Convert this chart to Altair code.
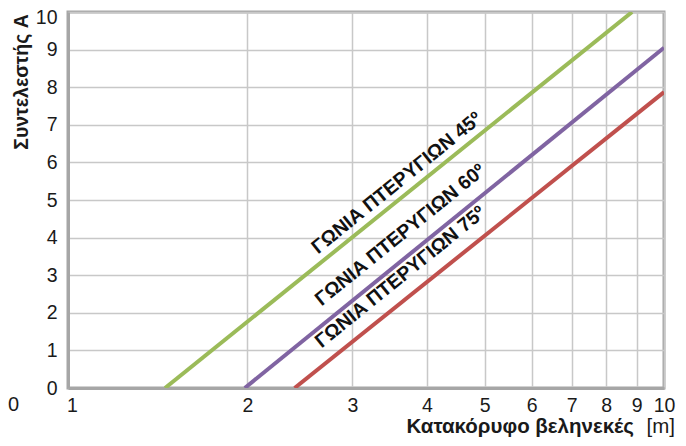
import altair as alt
import pandas as pd

# Line end points (x log scale, y linear)
series = ["45", "60", "75"]
x_start = [1.455, 1.98, 2.40]
y_start = [0.0, 0.0, 0.0]
x_end = [8.84, 10.0, 10.0]
y_end = [10.0, 9.05, 7.87]
colors = ["#9bbb59", "#8064a2", "#c0504d"]

label_texts = ["ΓΩΝΙΑ ΠΤΕΡΥΓΙΩΝ 45º", "ΓΩΝΙΑ ΠΤΕΡΥΓΙΩΝ 60º", "ΓΩΝΙΑ ΠΤΕΡΥΓΙΩΝ 75º"]
label_x = [3.56, 3.61, 3.61]
label_y = [5.45, 4.07, 2.95]

x_ticks = [1, 2, 3, 4, 5, 6, 7, 8, 9, 10]
y_ticks = [0, 1, 2, 3, 4, 5, 6, 7, 8, 9, 10]

rows = []
for s, xs, ys, xe, ye in zip(series, x_start, y_start, x_end, y_end):
    rows.append({"series": s, "x": xs, "y": ys, "o": 0})
    rows.append({"series": s, "x": xe, "y": ye, "o": 1})
lines_df = pd.DataFrame(rows)
labels_df = pd.DataFrame({"label": label_texts, "x": label_x, "y": label_y})

FONT = "Liberation Sans"

xscale = alt.Scale(type="log", domain=[1, 10], nice=False)
yscale = alt.Scale(domain=[0, 10], nice=False, zero=False)
xaxis = alt.Axis(values=x_ticks, format="d", title=None, labelOverlap=False, labelFlush=False,
                 labelOffset={"condition": {"test": "datum.value == 1", "value": 4}, "value": 0})
yaxis = alt.Axis(values=y_ticks, format="d", title=None, labelOverlap=False, labelFlush=False,
                 labelOffset={"condition": {"test": "datum.value == 10", "value": 5}, "value": 0})

lines = alt.Chart(lines_df).mark_line(strokeWidth=4, clip=True).encode(
    x=alt.X("x:Q", scale=xscale, axis=xaxis),
    y=alt.Y("y:Q", scale=yscale, axis=yaxis),
    color=alt.Color("series:N", scale=alt.Scale(domain=series, range=colors), legend=None),
    order="o:Q",
)

labels = alt.Chart(labels_df).mark_text(
    font=FONT, fontSize=19.5, fontWeight="bold", color="#111111",
    angle=321, align="center", baseline="middle",
).encode(
    x=alt.X("x:Q", scale=xscale, axis=xaxis),
    y=alt.Y("y:Q", scale=yscale, axis=yaxis),
    text="label:N",
)

one = pd.DataFrame({"t": [""]})

stray_zero = alt.Chart(one).mark_text(
    text="0", font=FONT, fontSize=20, color="#1a1a1a", align="left", baseline="middle"
).encode(x=alt.value(-60), y=alt.value(393))

y_title = alt.Chart(one).mark_text(
    text="Συντελεστής A", font=FONT, fontSize=19.5, fontWeight="bold", color="#1a1a1a",
    angle=270, align="center", baseline="middle"
).encode(x=alt.value(-46), y=alt.value(70))

x_title_bold = alt.Chart(one).mark_text(
    text="Κατακόρυφο βεληνεκές", font=FONT, fontSize=20.5, fontWeight="bold", color="#1a1a1a",
    align="right", baseline="alphabetic"
).encode(x=alt.value(566), y=alt.value(421))

x_title_unit = alt.Chart(one).mark_text(
    text="[m]", font=FONT, fontSize=20.5, color="#1a1a1a",
    align="right", baseline="alphabetic"
).encode(x=alt.value(607), y=alt.value(421))

chart = alt.layer(lines, labels, stray_zero, y_title, x_title_bold, x_title_unit).properties(
    width=596, height=376,
    autosize=alt.AutoSizeParams(type="none"),
    padding={"left": 60, "top": 4, "right": 14, "bottom": 50},
).configure_view(
    stroke="#a6a6a6", strokeWidth=3
).configure_axis(
    grid=True, gridColor="#c8c8c8", gridWidth=1.5,
    domainColor="#a6a6a6", domainWidth=3,
    ticks=False, labelFont=FONT, labelFontSize=19.5, labelColor="#1a1a1a",
).configure_axisX(
    labelPadding=8, labelAngle=0,
).configure_axisY(
    labelPadding=11,
)

chart.save("out.html", embed_options={"renderer": "svg", "actions": False})
